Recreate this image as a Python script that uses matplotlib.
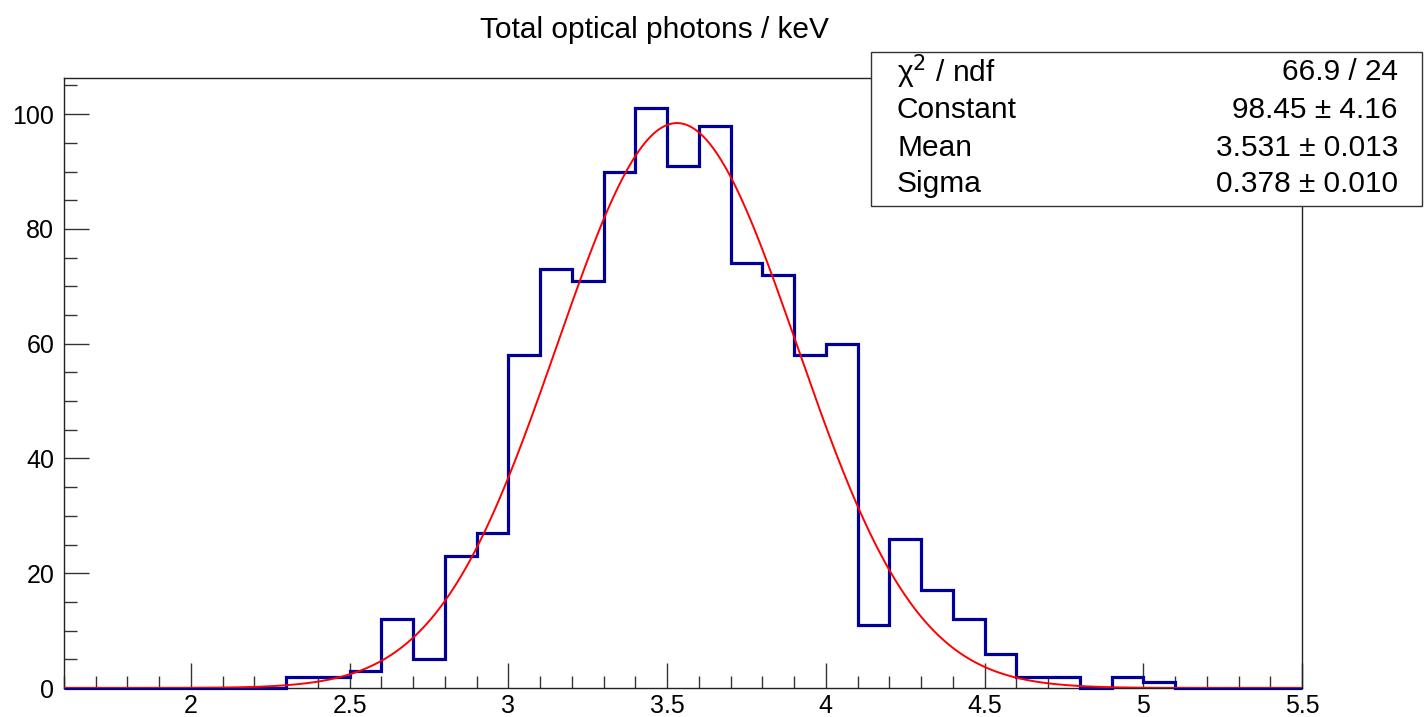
import numpy as np
import matplotlib.pyplot as plt
from matplotlib.ticker import MultipleLocator

plt.rcParams['font.family'] = ['Liberation Sans', 'DejaVu Sans']

# histogram bins (width 0.1 keV) from 1.6 to 5.5
edges = np.round(np.arange(1.6, 5.5001, 0.1), 1)
counts = [0, 0, 0, 0, 0, 0, 0,      # 1.6 - 2.3
          2, 2, 3, 12, 5, 23, 27,   # 2.3 - 3.0
          58, 73, 71, 90, 101, 91, 98, 74, 72, 58,  # 3.0 - 4.0
          60, 11, 26, 17, 12, 6, 2, 2, 0, 2,       # 4.0 - 5.0
          1, 0, 0, 0, 0]            # 5.0 - 5.5

# gaussian fit results from the stats box
fit_const = 98.45
fit_mean = 3.531
fit_sigma = 0.378
stat_names = ["χ$^{2}$ / ndf", "Constant", "Mean", "Sigma"]
stat_values = ["66.9 / 24", "98.45 ± 4.16", "3.531 ± 0.013", "0.378 ± 0.010"]

fig = plt.figure(figsize=(14.25, 7.17), dpi=100)
ax = fig.add_axes([0.0449, 0.0404, 0.8688, 0.8508])

ax.stairs(counts, edges, color='#000099', lw=2.3, clip_on=False, zorder=3)
xf = np.linspace(1.6, 5.5, 500)
ax.plot(xf, fit_const * np.exp(-0.5 * ((xf - fit_mean) / fit_sigma) ** 2),
        color='red', lw=1.4, zorder=4)

ax.set_xlim(1.6, 5.5)
ax.set_ylim(0, 106.3)
ax.xaxis.set_major_locator(MultipleLocator(0.5))
ax.xaxis.set_minor_locator(MultipleLocator(0.1))
ax.yaxis.set_major_locator(MultipleLocator(20))
ax.yaxis.set_minor_locator(MultipleLocator(5))
ax.xaxis.set_major_formatter(plt.FuncFormatter(lambda v, p: f"{v:g}"))
ax.tick_params(which='both', direction='in', top=False, right=False,
               labelsize=18, color='#333333', width=1)
ax.tick_params(which='major', length=18)
ax.tick_params(which='minor', length=9)
ax.tick_params(axis='x', pad=4)
ax.tick_params(axis='y', pad=7)
for s in ax.spines.values():
    s.set_linewidth(1)
    s.set_color('#222222')

fig.text(0.459, 0.958, "Total optical photons / keV", ha='center', va='center', fontsize=21.5)

# stats box
bx0, bx1 = 871 / 1425, 1422 / 1425
by0, by1 = 1 - 206 / 717, 1 - 52 / 717
fig.patches.append(plt.Rectangle((bx0, by0), bx1 - bx0, by1 - by0, transform=fig.transFigure,
                                 facecolor='white', edgecolor='#333333', lw=1, zorder=10))
rows_y = [72, 110, 148, 184]
for name, val, yy in zip(stat_names, stat_values, rows_y):
    fig.text(897 / 1425, 1 - yy / 717, name, ha='left', va='center', fontsize=21.5, zorder=11)
    fig.text(1398 / 1425, 1 - yy / 717, val, ha='right', va='center', fontsize=21.5, zorder=11)

fig.savefig('out.png', dpi=100)
